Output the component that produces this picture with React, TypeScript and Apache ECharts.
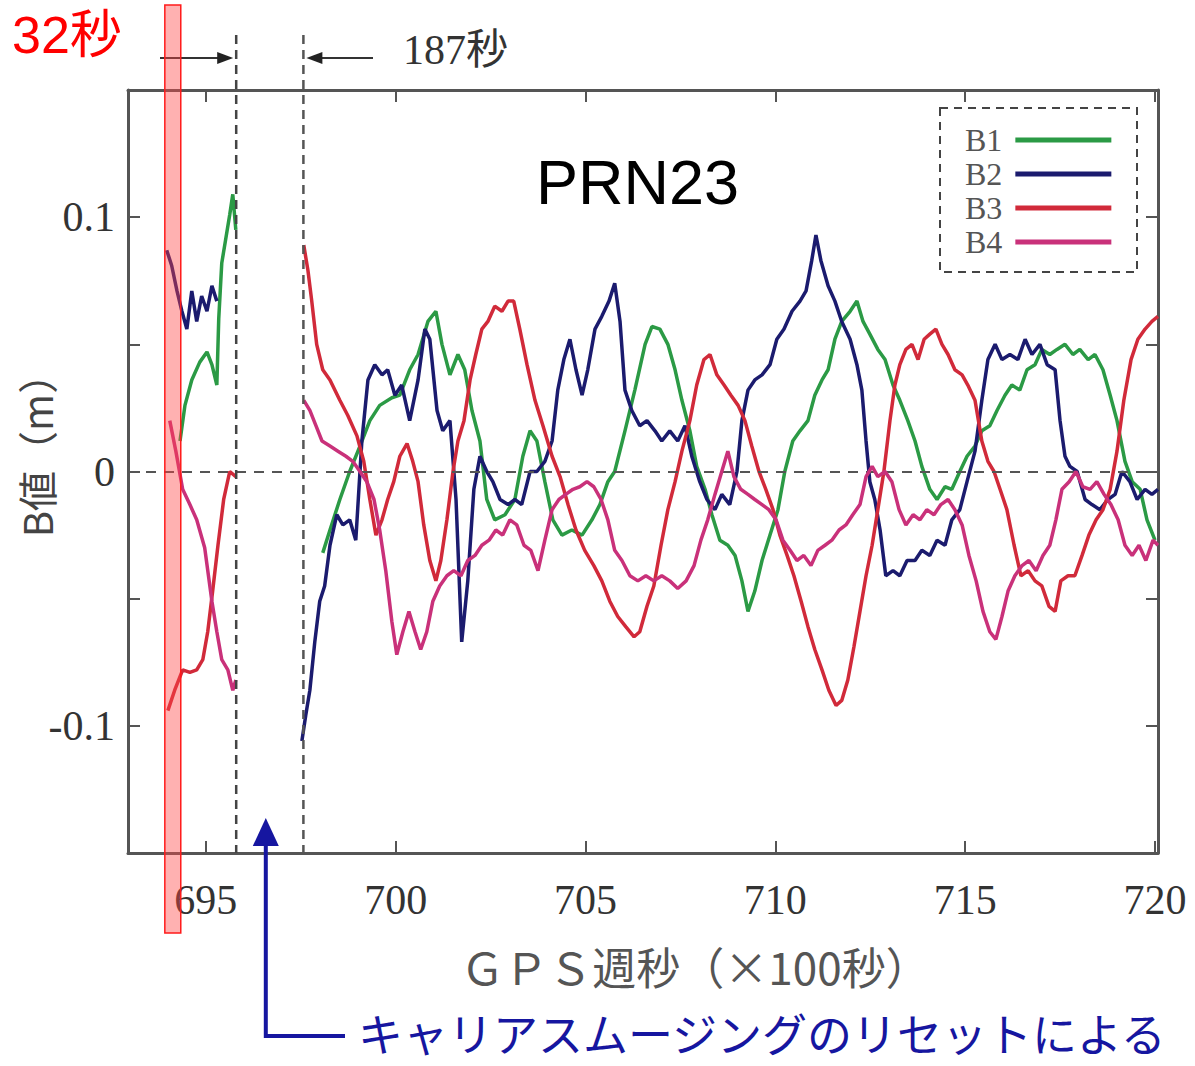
import React, { useEffect, useRef } from "react";
import * as echarts from "echarts";

// ---- axis settings (GPS week seconds in units of 100 s, B value in m) ----
const X_MIN = 692.95;
const X_MAX = 720.08;
const X_TICKS = [695, 700, 705, 710, 715, 720];
const Y_MIN = -0.15;
const Y_MAX = 0.15;
const Y_TICKS = [-0.1, -0.05, 0, 0.05, 0.1];
const Y_LABELS = [-0.1, 0, 0.1];

// ---- annotations ----
const RED_BAND = [693.92, 694.34]; // 32 s
const RESET_START = 695.8;
const RESET_END = 697.57; // 187 s
const GAP_X = 696.7;

type P = [number, number];

// ---- B1 ----
const B1_A: P[] = [
  [694.32, 0.012], [694.45, 0.026], [694.63, 0.036], [694.84, 0.043], [695.03, 0.047],
  [695.16, 0.042], [695.29, 0.034], [695.34, 0.06], [695.42, 0.082], [695.52, 0.091],
  [695.63, 0.101], [695.71, 0.109], [695.79, 0.095],
];
const B1_B: P[] = [
  [698.08, -0.032], [698.27, -0.023], [698.53, -0.011], [698.79, 0.0], [699.06, 0.01],
  [699.32, 0.02], [699.58, 0.026], [699.9, 0.029], [700.11, 0.03], [700.37, 0.04],
  [700.59, 0.046], [700.85, 0.059], [701.06, 0.063], [701.22, 0.05], [701.43, 0.038],
  [701.64, 0.046], [701.82, 0.04], [702.01, 0.024], [702.22, 0.012], [702.4, -0.011],
  [702.61, -0.019], [702.88, -0.017], [703.14, -0.011], [703.35, 0.006], [703.54, 0.016],
  [703.72, 0.012], [703.93, -0.004], [704.14, -0.019], [704.38, -0.025], [704.64, -0.023],
  [704.91, -0.025], [705.17, -0.019], [705.38, -0.013], [705.59, -0.004], [705.77, 0.0],
  [706.04, 0.016], [706.3, 0.032], [706.57, 0.05], [706.75, 0.057], [706.96, 0.056],
  [707.17, 0.05], [707.36, 0.04], [707.54, 0.028], [707.75, 0.016], [707.93, 0.002],
  [708.15, -0.007], [708.33, -0.017], [708.54, -0.027], [708.75, -0.029], [708.94, -0.033],
  [709.12, -0.043], [709.28, -0.055], [709.46, -0.047], [709.65, -0.035], [709.86, -0.025],
  [710.07, -0.015], [710.25, 0.0], [710.46, 0.012], [710.65, 0.016], [710.86, 0.02],
  [711.04, 0.03], [711.23, 0.036], [711.39, 0.04], [711.57, 0.052], [711.75, 0.059],
  [711.97, 0.063], [712.15, 0.067], [712.31, 0.059], [712.49, 0.054], [712.7, 0.048],
  [712.89, 0.044], [713.1, 0.034], [713.28, 0.028], [713.49, 0.02], [713.68, 0.012],
  [713.86, 0.002], [714.07, -0.007], [714.26, -0.011], [714.47, -0.006], [714.65, -0.007],
  [714.86, 0.0], [715.05, 0.006], [715.26, 0.01], [715.44, 0.016], [715.65, 0.018],
  [715.84, 0.024], [716.05, 0.03], [716.23, 0.034], [716.44, 0.032], [716.63, 0.04],
  [716.84, 0.042], [717.02, 0.048], [717.23, 0.046], [717.42, 0.048], [717.63, 0.05],
  [717.84, 0.046], [718.02, 0.048], [718.24, 0.044], [718.42, 0.046], [718.63, 0.04],
  [718.82, 0.03], [719.0, 0.02], [719.21, 0.004], [719.4, -0.004], [719.61, -0.007],
  [719.79, -0.019], [720.0, -0.027],
];

// ---- B2 ----
const B2_A: P[] = [
  [693.97, 0.087], [694.1, 0.081], [694.24, 0.071], [694.37, 0.063], [694.5, 0.056],
  [694.63, 0.071], [694.76, 0.059], [694.89, 0.069], [695.03, 0.063], [695.16, 0.073],
  [695.29, 0.067],
];
const B2_B: P[] = [
  [697.53, -0.106], [697.63, -0.096], [697.74, -0.086], [697.87, -0.067], [698.0, -0.051],
  [698.13, -0.045], [698.27, -0.029], [698.45, -0.017], [698.61, -0.021], [698.79, -0.019],
  [698.95, -0.027], [699.11, 0.012], [699.27, 0.036], [699.45, 0.042], [699.64, 0.038],
  [699.79, 0.04], [699.98, 0.03], [700.16, 0.034], [700.37, 0.02], [700.59, 0.036],
  [700.77, 0.056], [700.9, 0.052], [701.09, 0.024], [701.24, 0.016], [701.43, 0.02],
  [701.59, -0.011], [701.74, -0.067], [701.9, -0.043], [702.06, -0.007], [702.22, 0.006],
  [702.4, 0.0], [702.56, -0.004], [702.75, -0.011], [702.96, -0.013], [703.14, -0.011],
  [703.32, -0.013], [703.54, 0.0], [703.72, 0.0], [703.93, 0.004], [704.12, 0.012],
  [704.27, 0.032], [704.43, 0.044], [704.59, 0.052], [704.75, 0.04], [704.91, 0.03],
  [705.06, 0.04], [705.25, 0.056], [705.43, 0.061], [705.62, 0.067], [705.77, 0.074],
  [705.91, 0.059], [706.04, 0.032], [706.22, 0.024], [706.43, 0.018], [706.62, 0.02],
  [706.83, 0.016], [707.01, 0.012], [707.22, 0.016], [707.43, 0.012], [707.62, 0.018],
  [707.8, 0.006], [708.01, -0.004], [708.2, -0.011], [708.41, -0.015], [708.59, -0.009],
  [708.8, -0.013], [708.99, 0.0], [709.12, 0.02], [709.28, 0.032], [709.46, 0.036],
  [709.65, 0.038], [709.86, 0.042], [710.04, 0.052], [710.23, 0.056], [710.44, 0.063],
  [710.65, 0.067], [710.81, 0.071], [710.96, 0.083], [711.07, 0.093], [711.2, 0.083],
  [711.39, 0.073], [711.57, 0.067], [711.75, 0.059], [711.97, 0.052], [712.15, 0.042],
  [712.28, 0.032], [712.39, 0.012], [712.49, -0.004], [712.62, -0.011], [712.76, -0.023],
  [712.91, -0.041], [713.1, -0.039], [713.28, -0.041], [713.47, -0.035], [713.68, -0.035],
  [713.86, -0.031], [714.07, -0.033], [714.26, -0.027], [714.47, -0.029], [714.65, -0.019],
  [714.86, -0.015], [715.05, -0.004], [715.26, 0.008], [715.44, 0.028], [715.6, 0.044],
  [715.79, 0.05], [715.97, 0.044], [716.18, 0.046], [716.39, 0.044], [716.58, 0.052],
  [716.76, 0.046], [716.97, 0.05], [717.16, 0.042], [717.37, 0.04], [717.5, 0.02],
  [717.63, 0.006], [717.76, 0.002], [717.95, 0.0], [718.16, -0.011], [718.34, -0.013],
  [718.55, -0.015], [718.76, -0.011], [718.95, -0.009], [719.13, 0.0], [719.34, -0.004],
  [719.53, -0.011], [719.74, -0.007], [719.92, -0.009], [720.08, -0.007],
];

// ---- B3 ----
const B3_A: P[] = [
  [694.0, -0.094], [694.18, -0.086], [694.39, -0.078], [694.58, -0.079], [694.76, -0.078],
  [694.92, -0.074], [695.05, -0.063], [695.18, -0.047], [695.32, -0.029], [695.47, -0.011],
  [695.63, 0.0], [695.79, -0.002],
];
const B3_B: P[] = [
  [697.58, 0.089], [697.69, 0.079], [697.79, 0.067], [697.92, 0.05], [698.08, 0.04],
  [698.27, 0.036], [698.53, 0.028], [698.74, 0.022], [698.98, 0.014], [699.16, 0.004],
  [699.32, -0.011], [699.48, -0.025], [699.64, -0.019], [699.79, -0.011], [699.95, -0.004],
  [700.11, 0.006], [700.3, 0.011], [700.45, 0.004], [700.59, -0.004], [700.74, -0.021],
  [700.9, -0.035], [701.06, -0.043], [701.19, -0.035], [701.35, -0.019], [701.51, 0.0],
  [701.64, 0.012], [701.8, 0.02], [701.96, 0.036], [702.11, 0.046], [702.27, 0.056],
  [702.43, 0.059], [702.61, 0.065], [702.8, 0.063], [702.96, 0.067], [703.11, 0.067],
  [703.27, 0.056], [703.46, 0.042], [703.67, 0.028], [703.88, 0.018], [704.12, 0.006],
  [704.33, -0.002], [704.54, -0.013], [704.75, -0.023], [704.98, -0.031], [705.22, -0.037],
  [705.43, -0.043], [705.64, -0.051], [705.85, -0.057], [706.06, -0.061], [706.28, -0.065],
  [706.43, -0.063], [706.62, -0.053], [706.8, -0.045], [706.99, -0.029], [707.17, -0.015],
  [707.36, -0.004], [707.54, 0.008], [707.75, 0.02], [707.93, 0.034], [708.12, 0.044],
  [708.28, 0.046], [708.46, 0.038], [708.65, 0.034], [708.83, 0.03], [709.02, 0.026],
  [709.2, 0.02], [709.38, 0.01], [709.57, 0.0], [709.75, -0.007], [709.94, -0.015],
  [710.12, -0.025], [710.31, -0.033], [710.49, -0.041], [710.68, -0.051], [710.86, -0.061],
  [711.04, -0.07], [711.23, -0.078], [711.41, -0.086], [711.6, -0.092], [711.75, -0.09],
  [711.91, -0.082], [712.07, -0.069], [712.23, -0.055], [712.39, -0.041], [712.55, -0.029],
  [712.7, -0.015], [712.86, 0.0], [713.02, 0.02], [713.15, 0.034], [713.28, 0.042],
  [713.44, 0.048], [713.6, 0.05], [713.76, 0.044], [713.92, 0.052], [714.07, 0.054],
  [714.23, 0.056], [714.39, 0.05], [714.55, 0.046], [714.73, 0.04], [714.92, 0.038],
  [715.07, 0.034], [715.26, 0.028], [715.44, 0.012], [715.6, 0.004], [715.76, 0.0],
  [715.92, -0.007], [716.1, -0.015], [716.29, -0.029], [716.47, -0.041], [716.66, -0.039],
  [716.84, -0.043], [717.02, -0.045], [717.21, -0.053], [717.37, -0.055], [717.52, -0.043],
  [717.71, -0.041], [717.89, -0.041], [718.08, -0.033], [718.26, -0.025], [718.45, -0.019],
  [718.63, -0.015], [718.82, -0.007], [719.0, 0.008], [719.18, 0.028], [719.37, 0.044],
  [719.55, 0.052], [719.74, 0.056], [719.92, 0.059], [720.08, 0.061],
];

// ---- B4 ----
const B4_A: P[] = [
  [694.05, 0.02], [694.21, 0.008], [694.39, -0.007], [694.58, -0.013], [694.76, -0.019],
  [694.97, -0.03], [695.16, -0.051], [695.29, -0.063], [695.42, -0.074], [695.58, -0.078],
  [695.71, -0.086], [695.79, -0.082],
];
const B4_B: P[] = [
  [697.58, 0.028], [697.74, 0.024], [697.9, 0.018], [698.06, 0.012], [698.27, 0.01],
  [698.48, 0.008], [698.69, 0.006], [698.87, 0.004], [699.06, 0.0], [699.24, -0.004],
  [699.43, -0.011], [699.58, -0.023], [699.74, -0.039], [699.9, -0.059], [700.03, -0.072],
  [700.19, -0.063], [700.35, -0.055], [700.51, -0.063], [700.66, -0.07], [700.82, -0.063],
  [700.98, -0.051], [701.16, -0.045], [701.35, -0.041], [701.53, -0.039], [701.72, -0.041],
  [701.9, -0.035], [702.09, -0.033], [702.27, -0.029], [702.46, -0.027], [702.64, -0.023],
  [702.82, -0.025], [703.01, -0.019], [703.19, -0.021], [703.38, -0.029], [703.56, -0.031],
  [703.75, -0.039], [703.93, -0.027], [704.12, -0.015], [704.3, -0.011], [704.48, -0.009],
  [704.67, -0.007], [704.85, -0.006], [705.04, -0.004], [705.22, -0.006], [705.41, -0.011],
  [705.59, -0.019], [705.77, -0.031], [705.96, -0.035], [706.17, -0.041], [706.38, -0.043],
  [706.59, -0.041], [706.8, -0.043], [707.01, -0.041], [707.22, -0.043], [707.43, -0.046],
  [707.65, -0.043], [707.86, -0.037], [708.04, -0.027], [708.22, -0.019], [708.41, -0.009],
  [708.59, 0.0], [708.75, 0.008], [708.91, -0.002], [709.09, -0.007], [709.28, -0.009],
  [709.46, -0.011], [709.65, -0.013], [709.83, -0.015], [710.02, -0.019], [710.2, -0.027],
  [710.39, -0.031], [710.57, -0.035], [710.75, -0.033], [710.94, -0.037], [711.12, -0.031],
  [711.31, -0.029], [711.49, -0.027], [711.68, -0.023], [711.86, -0.021], [712.04, -0.017],
  [712.23, -0.013], [712.39, -0.002], [712.55, 0.002], [712.7, -0.002], [712.89, 0.0],
  [713.07, -0.004], [713.26, -0.015], [713.44, -0.021], [713.63, -0.017], [713.81, -0.019],
  [713.99, -0.015], [714.18, -0.017], [714.36, -0.013], [714.55, -0.011], [714.73, -0.015],
  [714.92, -0.021], [715.1, -0.033], [715.29, -0.043], [715.47, -0.055], [715.65, -0.063],
  [715.81, -0.066], [715.97, -0.057], [716.13, -0.047], [716.31, -0.041], [716.5, -0.037],
  [716.68, -0.035], [716.87, -0.039], [717.05, -0.033], [717.23, -0.029], [717.39, -0.019],
  [717.55, -0.007], [717.74, -0.004], [717.92, 0.0], [718.1, -0.006], [718.29, -0.007],
  [718.47, -0.004], [718.66, -0.009], [718.84, -0.013], [719.03, -0.019], [719.21, -0.029],
  [719.4, -0.033], [719.58, -0.029], [719.76, -0.035], [719.95, -0.027], [720.08, -0.029],
];

const SERIES_NAMES = ["B1", "B2", "B3", "B4"];
const SERIES_COLORS = ["#2b9a45", "#1b1b6e", "#d12a3a", "#c9317a"];
const SERIES_DATA: P[][][] = [
  [B1_A, B1_B],
  [B2_A, B2_B],
  [B3_A, B3_B],
  [B4_A, B4_B],
];

const SERIF = "'Liberation Serif', 'DejaVu Serif', 'Noto Sans CJK JP', serif";
const SANS = "'Liberation Sans', Arial, 'Noto Sans CJK JP', sans-serif";
const CJK = "'Noto Sans CJK JP', sans-serif";

export default function App() {
  const ref = useRef<HTMLDivElement>(null);

  useEffect(() => {
    if (!ref.current) return;
    const chart = echarts.init(ref.current, undefined, { renderer: "svg" });

    const axisLine = { show: true, onZero: false, lineStyle: { color: "#555", width: 3 } };
    const tick = (vals: number[]) => ({
      show: true,
      inside: true,
      length: 12,
      customValues: vals,
      lineStyle: { color: "#555", width: 2 },
    });

    const series: any[] = SERIES_NAMES.map((name, i) => ({
      name,
      type: "line",
      xAxisIndex: 0,
      yAxisIndex: 0,
      showSymbol: false,
      symbol: "none",
      connectNulls: false,
      lineStyle: { color: SERIES_COLORS[i], width: 3.5 },
      itemStyle: { color: SERIES_COLORS[i] },
      data: [...SERIES_DATA[i][0], [GAP_X, null], ...SERIES_DATA[i][1]],
      z: 2 + i,
    }));
    series[0].markLine = {
      silent: true,
      symbol: "none",
      label: { show: false },
      lineStyle: { color: "#555", width: 2, type: [10, 8] },
      data: [{ yAxis: 0 }],
    };

    chart.setOption({
      animation: false,
      backgroundColor: "#ffffff",
      title: {
        text: "PRN23",
        left: 536,
        top: 150,
        padding: 0,
        textStyle: { fontFamily: SANS, fontSize: 63, fontWeight: "normal", color: "#000" },
      },
      legend: {
        data: SERIES_NAMES,
        orient: "vertical",
        left: 965,
        top: 124,
        align: "right",
        icon: "rect",
        itemWidth: 96,
        itemHeight: 5,
        itemGap: 2,
        padding: 0,
        selectedMode: false,
        textStyle: {
          fontFamily: SERIF,
          fontSize: 32,
          color: "#555",
          padding: [0, 8, 0, 0],
        },
      },
      grid: {
        left: 128,
        right: 37,
        top: 90,
        bottom: 213,
        containLabel: false,
        outerBoundsMode: "none",
      },
      xAxis: [
        {
          type: "value",
          min: X_MIN,
          max: X_MAX,
          position: "bottom",
          axisLine,
          axisTick: tick(X_TICKS),
          splitLine: { show: false },
          axisLabel: {
            customValues: X_TICKS,
            margin: 26,
            fontFamily: SERIF,
            fontSize: 42,
            color: "#333",
          },
          name: "ＧＰＳ週秒（×100秒）",
          nameLocation: "middle",
          nameGap: 91,
          nameMoveOverlap: false,
          nameTextStyle: {
            fontFamily: CJK,
            fontSize: 44,
            color: "#555",
            padding: [0, 0, 0, 104],
          },
        },
        {
          type: "value",
          min: X_MIN,
          max: X_MAX,
          position: "top",
          axisLine,
          axisTick: tick(X_TICKS),
          splitLine: { show: false },
          axisLabel: { show: false },
        },
      ],
      yAxis: [
        {
          type: "value",
          min: Y_MIN,
          max: Y_MAX,
          interval: 0.05,
          position: "left",
          axisLine,
          axisTick: tick(Y_TICKS),
          splitLine: { show: false },
          axisLabel: {
            customValues: Y_LABELS,
            margin: 13,
            fontFamily: SERIF,
            fontSize: 42,
            color: "#333",
            formatter: (v: number) => (Math.abs(v) < 1e-9 ? "0" : String(v)),
          },
          name: "B値（m）",
          nameLocation: "middle",
          nameGap: 72,
          nameRotate: 90,
          nameMoveOverlap: false,
          nameTextStyle: {
            fontFamily: CJK,
            fontSize: 40,
            color: "#444",
            padding: [0, 0, 0, 52],
          },
        },
        {
          type: "value",
          min: Y_MIN,
          max: Y_MAX,
          interval: 0.05,
          position: "right",
          axisLine,
          axisTick: tick(Y_TICKS),
          splitLine: { show: false },
          axisLabel: { show: false },
        },
      ],
      series,
    });

    // annotations placed through the axis scales
    const px = (v: number) => chart.convertToPixel({ xAxisIndex: 0 }, v) as number;
    const py = (v: number) => chart.convertToPixel({ yAxisIndex: 0 }, v) as number;
    const xs = px(RESET_START);
    const xe = px(RESET_END);
    const yBottom = py(Y_MIN);
    const arrowY = 58;
    const xMid = px((RESET_START + RESET_END) / 2) - 4;
    const bandL = px(RED_BAND[0]);
    const bandR = px(RED_BAND[1]);
    const blue = "#1616a0";

    chart.setOption({
      graphic: [
        // legend dashed frame
        {
          type: "rect",
          shape: { x: 940, y: 108, width: 197, height: 164 },
          style: { fill: "none", stroke: "#444", lineWidth: 2, lineDash: [8, 6] },
          z: 10,
        },
        // reset boundaries
        {
          type: "line",
          shape: { x1: xs, y1: 35, x2: xs, y2: yBottom },
          style: { stroke: "#444", lineWidth: 2.5, lineDash: [9, 6] },
          z: 10,
        },
        {
          type: "line",
          shape: { x1: xe, y1: 35, x2: xe, y2: yBottom },
          style: { stroke: "#555", lineWidth: 2.5, lineDash: [9, 6] },
          z: 10,
        },
        // arrows →| |←
        {
          type: "line",
          shape: { x1: 160, y1: arrowY, x2: xs - 10, y2: arrowY },
          style: { stroke: "#333", lineWidth: 2 },
          z: 10,
        },
        {
          type: "polygon",
          shape: { points: [[xs - 3, arrowY], [xs - 19, arrowY - 6], [xs - 19, arrowY + 6]] },
          style: { fill: "#222" },
          z: 10,
        },
        {
          type: "line",
          shape: { x1: xe + 10, y1: arrowY, x2: 373, y2: arrowY },
          style: { stroke: "#333", lineWidth: 2 },
          z: 10,
        },
        {
          type: "polygon",
          shape: { points: [[xe + 3, arrowY], [xe + 19, arrowY - 6], [xe + 19, arrowY + 6]] },
          style: { fill: "#222" },
          z: 10,
        },
        {
          type: "text",
          x: 403,
          y: 29,
          style: {
            text: "187秒",
            font: `42px ${SERIF}`,
            fill: "#333",
            verticalAlign: "top",
          },
          z: 10,
        },
        // 32 s band
        {
          type: "rect",
          shape: { x: bandL, y: 5, width: bandR - bandL, height: 928 },
          style: { fill: "rgba(255, 70, 70, 0.42)", stroke: "#ff1a1a", lineWidth: 1.5 },
          z: 20,
        },
        {
          type: "text",
          x: 12,
          y: 9,
          style: {
            text: "32秒",
            font: `52px ${SANS}`,
            fill: "#ff0000",
            verticalAlign: "top",
          },
          z: 20,
        },
        // blue callout
        {
          type: "polygon",
          shape: { points: [[xMid, 818], [xMid - 13, 846], [xMid + 13, 846]] },
          style: { fill: blue },
          z: 20,
        },
        {
          type: "polyline",
          shape: { points: [[xMid, 844], [xMid, 1036], [345, 1036]] },
          style: { stroke: blue, lineWidth: 4, fill: "none" },
          z: 20,
        },
        {
          type: "text",
          x: 358,
          y: 1010,
          style: {
            text: "キャリアスムージングのリセットによる",
            font: `45px ${CJK}`,
            fill: blue,
            verticalAlign: "top",
          },
          z: 20,
        },
      ],
    });

    return () => chart.dispose();
  }, []);

  return (
    <div
      ref={ref}
      style={{ position: "absolute", left: 0, top: 0, width: 1195, height: 1066 }}
    />
  );
}
